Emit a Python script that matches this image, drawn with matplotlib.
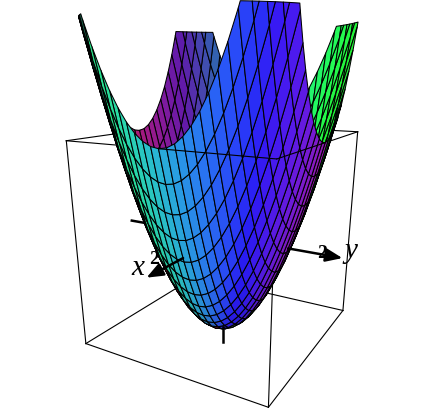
import numpy as np
import matplotlib
matplotlib.use("Agg")
import matplotlib.pyplot as plt
from mpl_toolkits.mplot3d import proj3d
from mpl_toolkits.mplot3d.art3d import Poly3DCollection

# z = x^2 + y^2 on a square, cut off at z_cut
half_width = 2.0
z_box_top = 4.0
z_cut = 6.0
n_cells = 26
axis_level = 2.0
arrow_tip = 2.45
elev, azim, focal = 17.97, 29.97, 0.274

# lights in eye coordinates (right, up, towards viewer)
red_light = np.array([0.75, 0.45, 0.08])
green_light = np.array([-0.8, 0.1, 0.35])
blue_light = np.array([0.1, -0.35, 0.9])


def clip_top(poly, zmax):
    out = []
    for i in range(len(poly)):
        a, b = poly[i], poly[(i + 1) % len(poly)]
        if a[2] <= zmax:
            out.append(a)
        if (a[2] <= zmax) != (b[2] <= zmax):
            t = (zmax - a[2]) / (b[2] - a[2])
            out.append(a + t * (b - a))
    return out


fig = plt.figure(figsize=(4.23, 4.16), dpi=100)
ax = fig.add_axes([51.05 / 423, 7.37 / 416, 334.6 / 423, 334.6 / 416], projection="3d", computed_zorder=False)
ax.set_xlim(-half_width, half_width)
ax.set_ylim(-half_width, half_width)
ax.set_zlim(0, z_box_top)
ax.set_box_aspect((1, 1, 1))
ax.view_init(elev=elev, azim=azim)
ax.set_proj_type("persp", focal_length=focal)
ax.set_axis_off()

e, a = np.radians(elev), np.radians(azim)
cam = np.array([np.cos(e) * np.cos(a), np.cos(e) * np.sin(a), np.sin(e)])
right = np.array([-np.sin(a), np.cos(a), 0])
up = np.cross(cam, right)
box_scale = np.array([0.55 / 2, 0.55 / 2, 1.1 / 4]) * 2
eye = cam * 2.74 + np.array([0, 0, 2.0]) * box_scale

grid = np.linspace(-half_width, half_width, n_cells + 1)
polys, colors = [], []
for i in range(n_cells):
    for j in range(n_cells):
        corners = [(grid[i], grid[j]), (grid[i + 1], grid[j]), (grid[i + 1], grid[j + 1]), (grid[i], grid[j + 1])]
        poly = [np.array([x, y, x * x + y * y]) for x, y in corners]
        if min(p[2] for p in poly) >= z_cut:
            continue
        poly = clip_top(poly, z_cut)
        pts = np.array(poly) * box_scale
        mid = pts.mean(axis=0)
        normal = np.cross(pts[1] - pts[0], pts[2] - pts[1])
        normal = normal / np.linalg.norm(normal)
        if normal @ (eye - mid) < 0:
            normal = -normal
        n_eye = np.array([normal @ right, normal @ up, normal @ cam])
        r = 0.16 + 0.85 * max(n_eye @ red_light, 0)
        g = 0.10 + 1.0 * max(n_eye @ green_light, 0)
        b = 0.30 + 0.70 * max(n_eye @ blue_light, 0)
        cx, cy = np.mean(poly, axis=0)[:2]
        if normal[2] > 0:
            # inner side of the bowl is duller
            b *= 0.72
            r *= 0.85
            # left lobe is seen edge on and stays dark green
            if cx > 0.8 and cy < -0.8:
                r, g, b = 0.1, 0.4, 0.3
        polys.append(poly)
        colors.append((min(r, 1), min(g, 1), min(b, 1)))

box = dict(color="black", lw=0.8, clip_on=False)
w, h = half_width, z_box_top
# edges behind the surface
for p, q in [((w, -w, 0), (w, w, 0)), ((w, w, 0), (-w, w, 0)), ((-w, w, 0), (-w, -w, 0)), ((-w, -w, 0), (w, -w, 0)),
             ((w, -w, 0), (w, -w, h)), ((w, w, 0), (w, w, h)), ((-w, w, 0), (-w, w, h)), ((-w, -w, 0), (-w, -w, h)),
             ((-w, w, h), (-w, -w, h)), ((-w, -w, h), (w, -w, h)), ((w, -w, h), (w, 0, h)), ((0, w, h), (-w, w, h))]:
    ax.plot(*zip(p, q), zorder=1, **box)

surf = Poly3DCollection(polys, facecolors=colors, edgecolors="black", linewidths=0.75, zsort="average", zorder=2)
surf.set_clip_on(False)
ax.add_collection3d(surf)

# top edges that stay in front
for p, q in [((w, 0, h), (w, w, h)), ((w, w, h), (0, w, h))]:
    ax.plot(*zip(p, q), zorder=3, **box)

# axes through the middle of the box
M = ax.get_proj()


def view(p):
    x, y, _ = proj3d.proj_transform(p[0], p[1], p[2], M)
    return x, y


exit_r = np.sqrt(axis_level)
ax.plot([0, 0], [-2.35, -exit_r], [axis_level, axis_level], color="black", lw=1.8, zorder=1, clip_on=False)
ax.plot([0, 0], [0, 0], [-0.38, -0.02], color="black", lw=1.8, zorder=3, clip_on=False)
for start, tip in [((exit_r, 0, axis_level), (arrow_tip, 0, axis_level)), ((0, exit_r, axis_level), (0, arrow_tip, axis_level))]:
    ax.annotate("", xy=view(tip), xytext=view(start), annotation_clip=False, zorder=4,
                arrowprops=dict(arrowstyle="-|>,head_length=1.0,head_width=0.4", color="black", lw=1.8, shrinkA=0, shrinkB=0))

serif = ["Liberation Serif", "DejaVu Serif"]
ax.annotate("x", xy=view((arrow_tip, 0, axis_level)), xytext=(-6, 7), textcoords="offset points", family=serif,
            style="italic", fontsize=21, ha="center", va="center", annotation_clip=False, zorder=5)
ax.annotate("y", xy=view((0, arrow_tip, axis_level)), xytext=(6, 5), textcoords="offset points", family=serif,
            style="italic", fontsize=21, ha="center", va="center", annotation_clip=False, zorder=5)
ax.annotate("2", xy=view((2, 0, axis_level)), xytext=(-7, 6.5), textcoords="offset points", family=serif,
            fontsize=14, weight="bold", ha="center", va="center", annotation_clip=False, zorder=5)
ax.annotate("2", xy=view((0, 2, axis_level)), xytext=(3, 0.5), textcoords="offset points", family=serif,
            fontsize=14, weight="bold", ha="center", va="center", annotation_clip=False, zorder=5)

fig.savefig("out.png", dpi=100)
